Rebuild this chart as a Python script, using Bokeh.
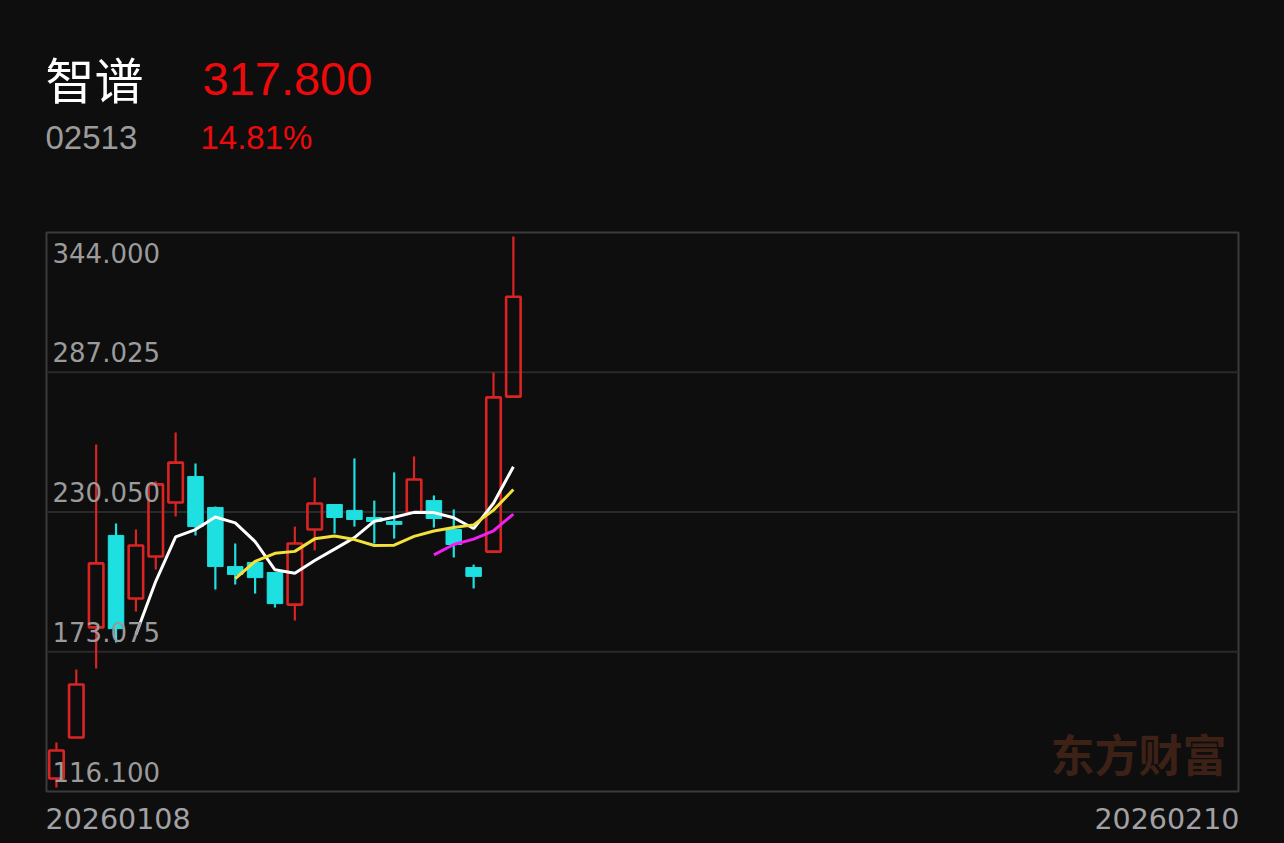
from bokeh.plotting import figure
from bokeh.models import Range1d, Label
from bokeh.core.properties import value
from bokeh.embed import file_html
from bokeh.resources import INLINE

# ---------------- data ----------------
stock_name = "智谱"
stock_code = "02513"
last_price = "317.800"
change_pct = "14.81%"
start_date = "20260108"
end_date = "20260210"
watermark = "东方财富"

opens = [121.4, 138.1, 183.0, 220.5, 194.8, 211.9, 233.9, 244.5, 231.9, 207.8, 209.5, 205.4,
         192.3, 222.9, 233.1, 230.7, 227.8, 226.2, 229.8, 234.7, 222.9, 207.4, 213.9, 277.1]
highs = [136.1, 165.8, 257.6, 225.4, 222.9, 242.5, 262.5, 249.8, 232.3, 217.2, 209.5, 205.4,
         224.1, 244.1, 233.1, 251.9, 234.7, 246.2, 252.7, 236.8, 231.1, 208.6, 286.9, 342.4]
lows = [117.7, 138.1, 166.2, 176.8, 189.5, 206.6, 228.2, 220.5, 198.5, 200.5, 196.8, 191.1,
        185.8, 214.4, 221.3, 224.1, 217.2, 219.2, 229.8, 223.7, 211.5, 198.9, 213.9, 277.1]
closes = [132.8, 159.7, 209.1, 182.5, 216.4, 241.3, 250.2, 224.1, 207.8, 204.6, 203.3, 192.7,
          217.2, 233.5, 227.8, 227.0, 226.2, 225.0, 243.3, 227.4, 216.8, 203.8, 276.8, 317.8]

ma5_start = 4
ma5 = [180.1, 201.8, 219.9, 222.9, 228.0, 225.6, 218.0, 206.5, 205.1, 210.3, 214.9, 219.6,
       226.3, 227.9, 229.9, 229.8, 227.7, 223.3, 233.6, 248.5]
ma10_start = 9
ma10 = [202.9, 209.9, 213.2, 214.0, 219.1, 220.3, 218.8, 216.4, 216.5, 220.1, 222.3, 223.7,
        224.8, 230.8, 239.2]
ma20_start = 19
ma20 = [212.6, 216.8, 219.0, 222.4, 229.2]

price_levels = [116.100, 173.075, 230.050, 287.025, 344.000]
price_labels = ["116.100", "173.075", "230.050", "287.025", "344.000"]
n_slots = 60

# ---------------- layout (pixels) ----------------
W, H = 1284, 843
BOX_L, BOX_R, BOX_T, BOX_B = 46, 1238, 232, 791

x_lo, x_hi = -0.5, n_slots - 0.5
y_lo, y_hi = price_levels[0], price_levels[-1]
xs = (x_hi - x_lo) / (BOX_R - BOX_L)
ys = (y_hi - y_lo) / (BOX_B - BOX_T)

BG = "#0e0e0e"
RED = "#da2424"
CYAN = "#1fe0e0"
GRAY = "#9b9b9b"

p = figure(width=W, height=H, output_backend="svg", toolbar_location=None,
           x_axis_type=None, y_axis_type=None,
           x_range=Range1d(x_lo - BOX_L * xs, x_hi + (W - BOX_R) * xs),
           y_range=Range1d(y_lo - (H - BOX_B) * ys, y_hi + BOX_T * ys),
           min_border=0)
p.background_fill_color = BG
p.border_fill_color = BG
p.outline_line_color = None

# chart box and grid
p.quad(left=[x_lo], right=[x_hi], bottom=[y_lo], top=[y_hi],
       fill_color=None, line_color="#3a3a3a", line_width=2)
mid = price_levels[1:-1]
p.segment(x0=[x_lo] * len(mid), x1=[x_hi] * len(mid), y0=mid, y1=mid,
          line_color="#2a2a2a", line_width=2)

idx = list(range(len(closes)))
up = [i for i in idx if closes[i] >= opens[i]]
dn = [i for i in idx if closes[i] < opens[i]]
cols = [RED if closes[i] >= opens[i] else CYAN for i in idx]

p.segment(x0=idx, x1=idx, y0=highs, y1=[max(o, c) for o, c in zip(opens, closes)],
          line_color=cols, line_width=2.2)
p.segment(x0=idx, x1=idx, y0=lows, y1=[min(o, c) for o, c in zip(opens, closes)],
          line_color=cols, line_width=2.2)

bw = 0.73
p.vbar(x=up, width=bw, bottom=[opens[i] for i in up], top=[closes[i] for i in up],
       fill_color=None, line_color=RED, line_width=2.6)
p.vbar(x=dn, width=bw + 0.05, bottom=[closes[i] for i in dn], top=[opens[i] for i in dn],
       fill_color=CYAN, line_color=CYAN, line_width=1)

p.line(x=list(range(ma5_start, ma5_start + len(ma5))), y=ma5, line_color="#ffffff", line_width=3)
p.line(x=list(range(ma10_start, ma10_start + len(ma10))), y=ma10, line_color="#f3e03a", line_width=3)
p.line(x=list(range(ma20_start, ma20_start + len(ma20))), y=ma20, line_color="#f01ef0", line_width=3)

# price labels inside the box
AX_FONT = value("DejaVu Sans")
p.text(x=[x_lo] * 4, y=price_levels[:-1], text=price_labels[:-1], x_offset=6, y_offset=-20,
       text_font=AX_FONT, text_font_size="26px", text_color=GRAY, text_baseline="middle")
p.text(x=[x_lo], y=[price_levels[-1]], text=[price_labels[-1]], x_offset=6, y_offset=20,
       text_font=AX_FONT, text_font_size="26px", text_color=GRAY, text_baseline="middle")


def lab(txt, px, py, size, color, font, align="left", style="normal"):
    # px, py: page pixels from top-left
    p.add_layout(Label(x=px, y=H - py, x_units="screen", y_units="screen", text=txt,
                       text_font=font, text_font_size=size, text_color=color,
                       text_align=align, text_baseline="middle", text_font_style=style))


lab(stock_name, 45, 77, "49px", "#ffffff", "Noto Sans CJK SC")
lab(last_price, 202, 78, "47px", "#ee0a0a", "Liberation Sans")
lab(stock_code, 45, 136.5, "33px", GRAY, "Liberation Sans")
lab(change_pct, 200, 136.5, "33px", "#ee0a0a", "Liberation Sans")
lab(start_date, 45, 818, "28.5px", "#a2a2a6", "DejaVu Sans")
lab(end_date, 1239, 818, "28.5px", "#a2a2a6", "DejaVu Sans", align="right")
lab(watermark, 1226, 752, "44px", "#3d2116", "Noto Sans CJK SC", align="right", style="bold")

html = file_html(p, INLINE, "智谱")
html = html.replace("</head>",
                    "<style>html,body{margin:0;padding:0;overflow:hidden;background:#0e0e0e;}</style></head>", 1)
open("out.html", "w").write(html)
